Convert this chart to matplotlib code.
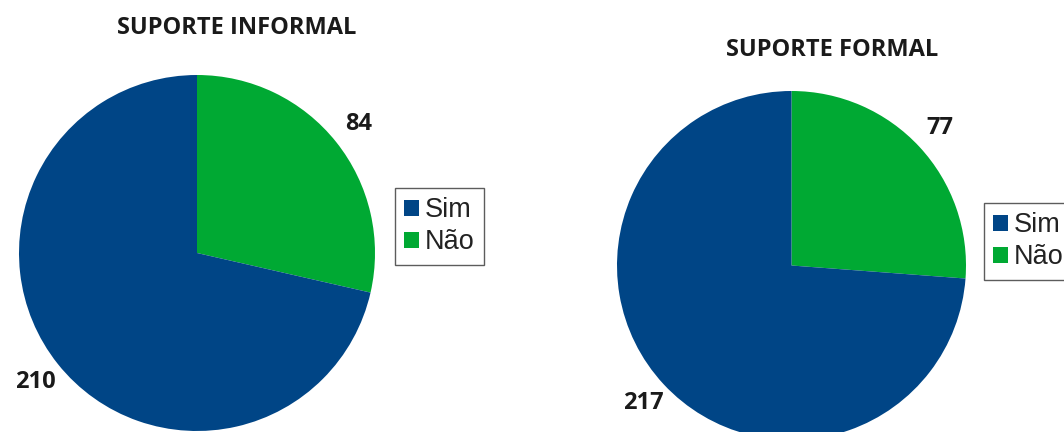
import matplotlib
matplotlib.use("Agg")
import matplotlib.pyplot as plt
from matplotlib.patches import Patch

# dados
categorias = ["Sim", "Não"]
informal = [210, 84]
formal = [217, 77]
titulos = ["SUPORTE INFORMAL", "SUPORTE FORMAL"]

azul = "#004586"
verde = "#00a933"

W, H = 1064, 432
fig = plt.figure(figsize=(W / 100, H / 100), dpi=100)

def desenha_pizza(rect, valores, titulo, titulo_y, leg_xy):
    ax = fig.add_axes(rect)
    # Não primeiro, a partir das 12h no sentido horario
    vals = [valores[1], valores[0]]
    wedges, textos = ax.pie(vals, colors=[verde, azul], startangle=90,
                            counterclock=False, radius=1,
                            labels=[str(v) for v in vals], labeldistance=1.16,
                            textprops=dict(fontsize=17, fontweight="bold",
                                           family="Open Sans", color="#1a1a1a"))
    for t in textos:
        t.set_ha("center")
        t.set_va("center")
    ax.set_xlim(-1, 1)
    ax.set_ylim(-1, 1)
    ax.axis("off")
    cx = rect[0] + rect[2] / 2
    fig.text(cx + titulo[1], titulo_y, titulo[0], ha="center", va="center",
             fontsize=17, fontweight="bold", family="Open Sans", color="#1a1a1a")
    handles = [Patch(facecolor=azul), Patch(facecolor=verde)]
    fig.legend(handles, categorias, loc="upper left", bbox_to_anchor=leg_xy,
               frameon=True, fancybox=False, edgecolor="#333333",
               prop=dict(family="Liberation Sans", size=19.5),
               handlelength=0.55, handleheight=0.55, handletextpad=0.2,
               borderpad=0.35, borderaxespad=0, labelspacing=0.22,
               labelcolor="#222222")

# pizza esquerda: centro (197, 253) raio 178 px
R1 = 178
desenha_pizza([(197 - R1) / W, (H - 253 - R1) / H, 2 * R1 / W, 2 * R1 / H],
              informal, (titulos[0], (237 - 197) / W), (H - 28) / H,
              (395 / W, (H - 188) / H))

# pizza direita: centro (791.5, 265.5) raio 174.5 px
R2 = 174.5
desenha_pizza([(791.5 - R2) / W, (H - 265.5 - R2) / H, 2 * R2 / W, 2 * R2 / H],
              formal, (titulos[1], (832 - 791.5) / W), (H - 50) / H,
              (984 / W, (H - 203) / H))

fig.savefig("out.png", dpi=100, facecolor="white")
